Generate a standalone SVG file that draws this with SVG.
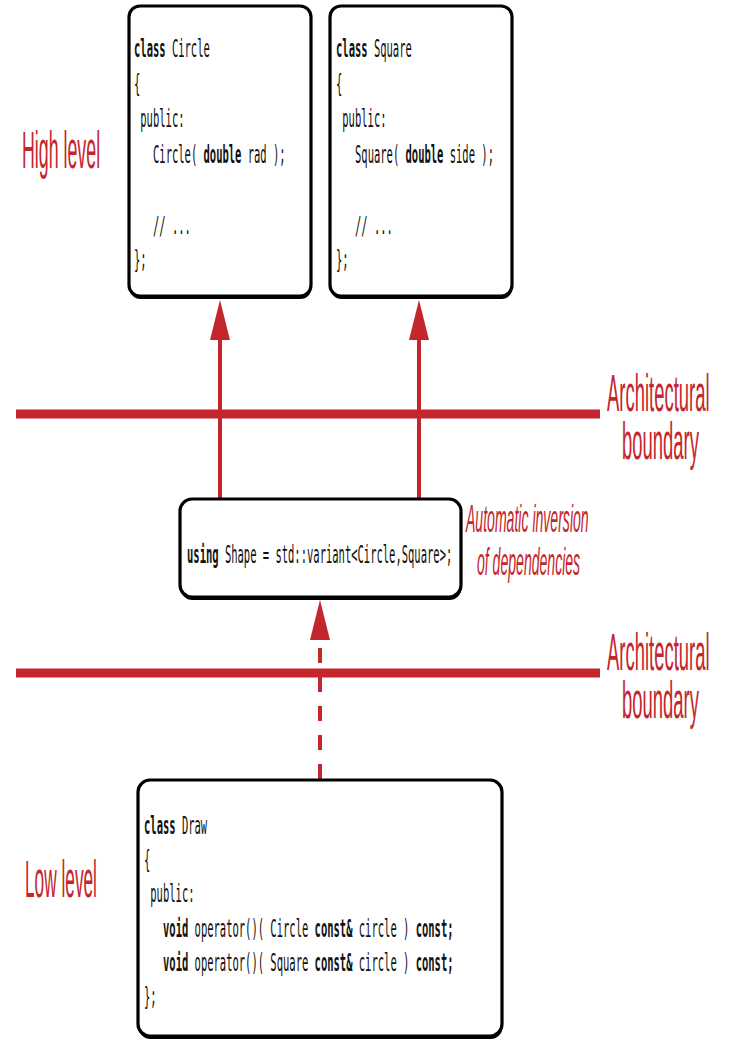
<svg xmlns="http://www.w3.org/2000/svg" width="734" height="1052" viewBox="0 0 734 1052">
<defs>
<style>
.box{fill:#fff;stroke:#000;stroke-width:3.2}
.shadow{fill:#000}
.code{font-family:"DejaVu Sans Mono","Liberation Mono",monospace;font-size:25px;fill:#111}
.b{font-weight:bold}
.lbl{font-family:"Liberation Sans","Noto Sans",sans-serif;font-size:52px;fill:#C4262E}
.note{font-family:"Liberation Sans","Noto Sans",sans-serif;font-size:38px;font-style:italic;fill:#C4262E}
.dep{stroke:#C4262E;stroke-width:4;fill:none}
.bound{stroke:#C4262E;stroke-width:9}
</style>
<marker id="ah" markerUnits="userSpaceOnUse" markerWidth="40" markerHeight="20" refX="0" refY="10" orient="auto">
<path d="M0,0 L40,10 L0,20 z" fill="#C4262E"/>
</marker>
</defs>
<rect width="734" height="1052" fill="#fff"/>

<g id="boundaries">
<line class="bound" x1="16" y1="414" x2="600" y2="414"/>
<line class="bound" x1="16" y1="673" x2="600" y2="673"/>
</g>

<g id="connectors">
<line class="dep" x1="220" y1="499" x2="220" y2="340" marker-end="url(#ah)"/>
<line class="dep" x1="419" y1="499" x2="419" y2="340" marker-end="url(#ah)"/>
<line class="dep" x1="320" y1="779" x2="320" y2="640" stroke-dasharray="15 14" marker-end="url(#ah)"/>
</g>

<g id="labels">
<text class="lbl" transform="translate(22,168) scale(0.342,1)">High level</text>
<text class="lbl" transform="translate(25,897) scale(0.332,1)">Low level</text>
<text class="lbl" transform="translate(607,411) scale(0.355,1)"><tspan x="0" y="0">Architectural</tspan><tspan x="42.3" y="48">boundary</tspan></text>
<text class="lbl" transform="translate(607,670) scale(0.355,1)"><tspan x="0" y="0">Architectural</tspan><tspan x="42.3" y="48">boundary</tspan></text>
<text class="note" transform="translate(466,532) scale(0.37,1)"><tspan x="0" y="0">Automatic inversion</tspan><tspan x="29.7" y="43">of dependencies</tspan></text>
</g>

<g id="circle">
<rect class="shadow" x="129.5" y="8" width="182" height="291" rx="11"/>
<rect class="box" x="129" y="6" width="182" height="290" rx="11"/>
<text class="code" transform="translate(134,57) scale(0.42,1)"><tspan class="b">class</tspan> Circle</text>
<text class="code" transform="translate(134,92) scale(0.42,1)">{</text>
<text class="code" transform="translate(140.3,127) scale(0.42,1)">public:</text>
<text class="code" transform="translate(153,163) scale(0.42,1)">Circle( <tspan class="b">double</tspan> rad );</text>
<text class="code" transform="translate(153,234) scale(0.42,1)">// ...</text>
<text class="code" transform="translate(134,268) scale(0.42,1)">};</text>
</g>

<g id="square">
<rect class="shadow" x="330.5" y="8" width="182" height="291" rx="11"/>
<rect class="box" x="330" y="6" width="182" height="290" rx="11"/>
<text class="code" transform="translate(336,57) scale(0.42,1)"><tspan class="b">class</tspan> Square</text>
<text class="code" transform="translate(336,92) scale(0.42,1)">{</text>
<text class="code" transform="translate(342.3,127) scale(0.42,1)">public:</text>
<text class="code" transform="translate(355,163) scale(0.42,1)">Square( <tspan class="b">double</tspan> side );</text>
<text class="code" transform="translate(355,234) scale(0.42,1)">// ...</text>
<text class="code" transform="translate(336,268) scale(0.42,1)">};</text>
</g>

<g id="shape">
<rect class="shadow" x="180.5" y="501" width="281" height="99" rx="12"/>
<rect class="box" x="180" y="499" width="281" height="98" rx="12"/>
<text class="code" transform="translate(187,563) scale(0.42,1)"><tspan class="b">using</tspan> Shape = std::variant&lt;Circle,Square&gt;;</text>
</g>

<g id="draw">
<rect class="shadow" x="138.5" y="782" width="364" height="257" rx="12"/>
<rect class="box" x="138" y="780" width="364" height="256" rx="12"/>
<text class="code" transform="translate(144,834) scale(0.42,1)"><tspan class="b">class</tspan> Draw</text>
<text class="code" transform="translate(144,868) scale(0.42,1)">{</text>
<text class="code" transform="translate(150.3,902) scale(0.42,1)">public:</text>
<text class="code" transform="translate(163,937) scale(0.42,1)"><tspan class="b">void</tspan> operator()( Circle <tspan class="b">const&amp;</tspan> circle ) <tspan class="b">const;</tspan></text>
<text class="code" transform="translate(163,971) scale(0.42,1)"><tspan class="b">void</tspan> operator()( Square <tspan class="b">const&amp;</tspan> circle ) <tspan class="b">const;</tspan></text>
<text class="code" transform="translate(144,1005) scale(0.42,1)">};</text>
</g>
</svg>
